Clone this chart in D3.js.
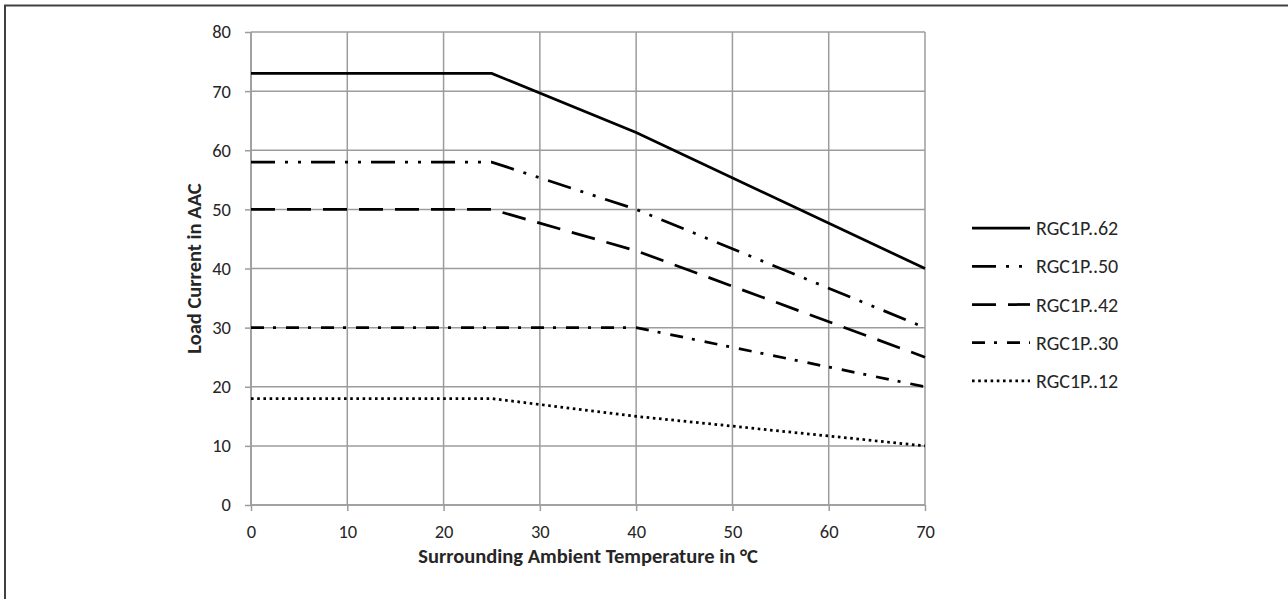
<!DOCTYPE html>
<html>
<head>
<meta charset="utf-8">
<script src="https://cdn.jsdelivr.net/npm/d3@7"></script>
<style>
  html, body { margin: 0; padding: 0; background: #fff; }
  svg { display: block; font-family: Carlito, Calibri, Lato, "Open Sans", sans-serif; }
</style>
</head>
<body>
<svg id="chart" width="1288" height="599"></svg>
<script>
// ---- data ----
const seriesNames = ["RGC1P..62", "RGC1P..50", "RGC1P..42", "RGC1P..30", "RGC1P..12"];
const temps62 = [0, 25, 40, 70];
const load62  = [73, 73, 63, 40];
const temps50 = [0, 25, 40, 70];
const load50  = [58, 58, 50, 30];
const temps42 = [0, 25, 40, 70];
const load42  = [50, 50, 43, 25];
const temps30 = [0, 25, 40, 70];
const load30  = [30, 30, 30, 20];
const temps12 = [0, 25, 40, 70];
const load12  = [18, 18, 15, 10];
const xTicks = [0, 10, 20, 30, 40, 50, 60, 70];
const yTicks = [0, 10, 20, 30, 40, 50, 60, 70, 80];
const xTitle = "Surrounding Ambient Temperature in °C";
const yTitle = "Load Current in AAC";

// ---- styles ----
const dashes = ["none", "24,10,3,10,3,10", "24,12", "13,9,3,10", "2.6,3.6"];
const seriesData = [
  [temps62, load62], [temps50, load50], [temps42, load42], [temps30, load30], [temps12, load12]
].map(([t, v], i) => ({ name: seriesNames[i], dash: dashes[i], pts: t.map((x, j) => [x, v[j]]) }));

const svg = d3.select("#chart");
const W = 1288, H = 599;
const mLeft = 251, mRight = 925, mTop = 32, mBottom = 505;

// outer border
svg.append("rect").attr("x", 5).attr("y", 5.5).attr("width", W + 10).attr("height", H + 10)
  .attr("fill", "none").attr("stroke", "#404040").attr("stroke-width", 2);

const x = d3.scaleLinear().domain([0, 70]).range([mLeft, mRight]);
const y = d3.scaleLinear().domain([0, 80]).range([mBottom, mTop]);

const gridColor = "#9c9c9c";

// grid
svg.append("g").selectAll("line").data(xTicks).join("line")
  .attr("x1", d => x(d)).attr("x2", d => x(d)).attr("y1", mTop).attr("y2", mBottom)
  .attr("stroke", gridColor).attr("stroke-width", 1.5);
svg.append("g").selectAll("line").data(yTicks).join("line")
  .attr("x1", mLeft).attr("x2", mRight).attr("y1", d => y(d)).attr("y2", d => y(d))
  .attr("stroke", gridColor).attr("stroke-width", 1.5);

// axes
const xAxis = d3.axisBottom(x).tickValues(xTicks).tickSize(6).tickPadding(14).tickFormat(d3.format("d"));
const yAxis = d3.axisLeft(y).tickValues(yTicks).tickSize(6).tickPadding(14).tickFormat(d3.format("d"));
const gx = svg.append("g").attr("transform", `translate(0,${mBottom})`).call(xAxis);
const gy = svg.append("g").attr("transform", `translate(${mLeft},0)`).call(yAxis);
[gx, gy].forEach(g => {
  g.select(".domain").attr("stroke", gridColor).attr("stroke-width", 1.5);
  g.selectAll(".tick line").attr("stroke", gridColor).attr("stroke-width", 1.5);
  g.selectAll(".tick text").attr("fill", "#262626").style("font-size", "18.5px")
    .style("font-family", "Carlito, Calibri, Lato, 'Open Sans', sans-serif");
});
gx.select(".domain").attr("d", `M${mLeft},0H${mRight}`);
gy.select(".domain").attr("d", `M0,${mTop}V${mBottom}`);

// titles
svg.append("text").attr("x", (mLeft + mRight) / 2).attr("y", 563)
  .attr("text-anchor", "middle").attr("font-weight", "bold").attr("font-size", 20.5)
  .attr("fill", "#262626").text(xTitle);
svg.append("text").attr("transform", `translate(201,${(mTop + mBottom) / 2}) rotate(-90)`)
  .attr("text-anchor", "middle").attr("font-weight", "bold").attr("font-size", 20.5)
  .attr("fill", "#262626").text(yTitle);

// lines
const line = d3.line().x(d => x(d[0])).y(d => y(d[1]));
svg.append("g").selectAll("path").data(seriesData).join("path")
  .attr("d", d => line(d.pts)).attr("fill", "none").attr("stroke", "#000")
  .attr("stroke-width", 2.75).attr("stroke-dasharray", d => d.dash === "none" ? null : d.dash);

// legend
const leg = d3.scaleBand().domain(seriesNames).range([209, 400]).paddingInner(0);
const lg = svg.append("g").selectAll("g").data(seriesData).join("g")
  .attr("transform", d => `translate(0,${leg(d.name) + leg.bandwidth() / 2})`);
lg.append("line").attr("x1", 972).attr("x2", 1030).attr("y1", 0).attr("y2", 0)
  .attr("stroke", "#000").attr("stroke-width", 2.75)
  .attr("stroke-dasharray", d => d.dash === "none" ? null : d.dash);
lg.append("text").attr("x", 1036).attr("y", 0).attr("dy", "0.35em")
  .attr("font-size", 20).attr("fill", "#262626").text(d => d.name);
</script>
</body>
</html>
